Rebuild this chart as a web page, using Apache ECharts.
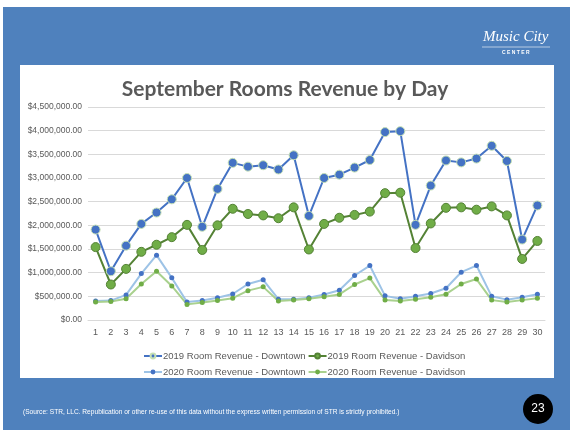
<!DOCTYPE html>
<html>
<head>
    <meta charset="UTF-8">
    <title>September Rooms Revenue by Day</title>
    <style>
        html, body { margin: 0; padding: 0; background: #fff; }
    </style>
</head>
<body>
    <div id="main" style="width:570px;height:430px"></div>

    <script src="https://cdn.jsdelivr.net/npm/echarts@6/dist/echarts.min.js"></script>
    <script>
        /* data */
        var days = ['1','2','3','4','5','6','7','8','9','10','11','12','13','14','15',
                    '16','17','18','19','20','21','22','23','24','25','26','27','28','29','30'];
        var downtown2019 = [1910000,1030000,1570000,2030000,2270000,2550000,3000000,1970000,2770000,3320000,
                            3240000,3270000,3180000,3480000,2200000,3000000,3070000,3220000,3380000,3970000,
                            3990000,2010000,2840000,3370000,3330000,3410000,3680000,3360000,1700000,2420000];
        var davidson2019 = [1540000,750000,1080000,1440000,1590000,1750000,2010000,1480000,2000000,2350000,
                            2240000,2210000,2150000,2380000,1490000,2030000,2160000,2220000,2290000,2680000,
                            2690000,1520000,2040000,2370000,2380000,2330000,2400000,2210000,1290000,1670000];
        var downtown2020 = [400000,410000,530000,980000,1370000,890000,380000,410000,470000,550000,
                            760000,850000,440000,440000,470000,540000,630000,940000,1150000,510000,
                            450000,500000,560000,670000,1010000,1150000,500000,430000,480000,545000];
        var davidson2020 = [380000,390000,450000,760000,1030000,720000,330000,370000,410000,460000,
                            620000,700000,400000,420000,450000,490000,540000,750000,885000,420000,
                            400000,440000,480000,545000,760000,865000,420000,380000,420000,460000];
        var names = ['2019 Room Revenue - Downtown','2019 Room Revenue - Davidson',
                     '2020 Room Revenue - Downtown','2020 Room Revenue - Davidson'];

        function money(v){
            var s = Math.round(v).toString().replace(/\B(?=(\d{3})+(?!\d))/g, ',');
            return '$' + s + '.00';
        }

        var txt = '#595959';
        var app = echarts.init(document.getElementById('main'));
        var option = {
            animation: false,
            textStyle: {fontFamily: 'Liberation Sans'},
            title: {
                text: 'September Rooms Revenue by Day',
                left: 'center',
                top: 74,
                textStyle: {fontFamily: 'Lato', fontSize: 21, fontWeight: 'bold', color: txt}
            },
            legend: [
                {
                    data: [names[0], names[1]],
                    left: 138, top: 346,
                    itemWidth: 18, itemHeight: 6, itemGap: 2,
                    textStyle: {fontSize: 9.5, color: txt, padding: [0,0,0,-4]}
                },
                {
                    data: [names[2], names[3]],
                    left: 138, top: 362,
                    itemWidth: 18, itemHeight: 6, itemGap: 2,
                    textStyle: {fontSize: 9.5, color: txt, padding: [0,0,0,-4]}
                }
            ],
            grid: {left: 88, right: 25, top: 107, bottom: 110},
            xAxis: {
                type: 'category',
                data: days,
                axisLine: {lineStyle: {color: '#d9d9d9'}},
                axisTick: {show: false},
                axisLabel: {fontSize: 9, color: txt, margin: 8, interval: 0}
            },
            yAxis: {
                type: 'value',
                min: 0, max: 4500000, interval: 500000,
                axisLabel: {fontSize: 8.5, color: txt, margin: 6, formatter: money},
                splitLine: {lineStyle: {color: '#d9d9d9'}}
            },
            series: [
                {
                    name: names[0], type: 'line', data: downtown2019, z: 4,
                    symbol: 'circle', symbolSize: 9,
                    lineStyle: {color: '#4472C4', width: 2},
                    itemStyle: {color: '#4472C4', borderColor: '#C5E0B4', borderWidth: 1}
                },
                {
                    name: names[1], type: 'line', data: davidson2019, z: 3,
                    symbol: 'circle', symbolSize: 9,
                    lineStyle: {color: '#548235', width: 2},
                    itemStyle: {color: '#70AD47', borderColor: '#548235', borderWidth: 1}
                },
                {
                    name: names[2], type: 'line', data: downtown2020, z: 2,
                    symbol: 'circle', symbolSize: 5,
                    lineStyle: {color: '#9DC3E6', width: 2},
                    itemStyle: {color: '#4472C4', borderWidth: 0}
                },
                {
                    name: names[3], type: 'line', data: davidson2020, z: 2,
                    symbol: 'circle', symbolSize: 5,
                    lineStyle: {color: '#A9D18E', width: 2},
                    itemStyle: {color: '#70AD47', borderWidth: 0}
                }
            ],
            graphic: [
                {type: 'rect', z: -20, silent: true, shape: {x: 3, y: 7, width: 567, height: 423}, style: {fill: '#4F81BD'}},
                {type: 'rect', z: -19, silent: true, shape: {x: 20, y: 65, width: 534, height: 313}, style: {fill: '#ffffff'}},
                {type: 'text', z: 5, left: 483, top: 30, style: {text: 'Music City', fill: '#ffffff', font: 'italic 15px "Liberation Serif"'}},
                {type: 'text', z: 5, left: 502, top: 50, style: {text: 'C E N T E R', fill: '#ffffff', font: 'bold 5px "Liberation Sans"'}},
                {type: 'line', z: 5, shape: {x1: 482, y1: 47, x2: 550, y2: 47}, style: {stroke: '#ffffff', lineWidth: 0.6}},
                {type: 'text', z: 5, left: 23, top: 409, style: {text: '(Source: STR, LLC. Republication or other re-use of this data without the express written permission of STR is strictly prohibited.)', fill: '#ffffff', font: '6.6px "Liberation Sans"'}},
                {type: 'circle', z: 5, shape: {cx: 538, cy: 409, r: 15}, style: {fill: '#000000'}},
                {type: 'text', z: 6, x: 538, y: 409, style: {text: '23', fill: '#ffffff', font: '12px "Liberation Sans"', align: 'center', verticalAlign: 'middle'}}
            ]
        };
        app.setOption(option);
    </script>
</body>
</html>
